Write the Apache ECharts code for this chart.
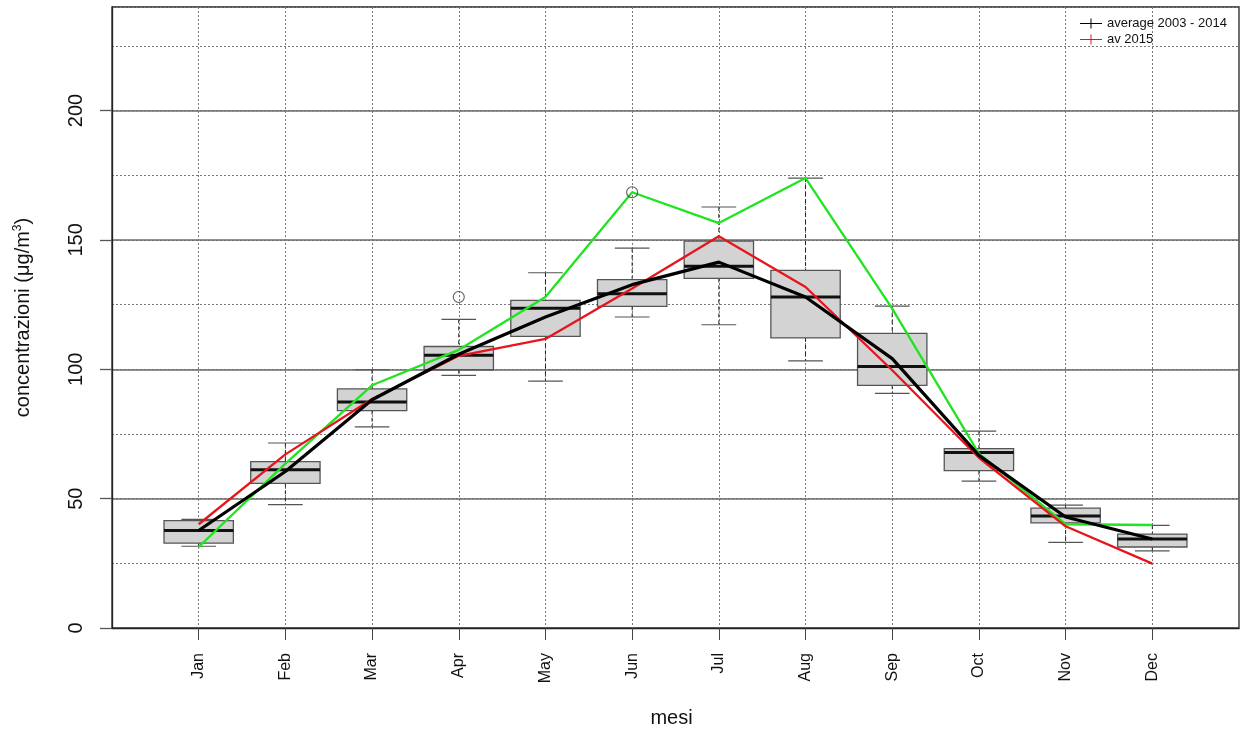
<!DOCTYPE html>
<html>
<head>
<meta charset="utf-8">
<title>Concentrazioni mensili</title>
<script src="https://cdn.jsdelivr.net/npm/echarts@6/dist/echarts.min.js"></script>
<style>
  html, body { margin: 0; padding: 0; background: #fff; }
  #chart { width: 1243px; height: 731px; }
</style>
</head>
<body>
<div id="chart"></div>
<script>
// Months on the x axis
const months = ['Jan', 'Feb', 'Mar', 'Apr', 'May', 'Jun', 'Jul', 'Aug', 'Sep', 'Oct', 'Nov', 'Dec'];

// Monthly distribution 2003 - 2014 (whisker low, Q1, median, Q3, whisker high)
const whiskerLow  = [31.6, 47.7, 77.7,  97.6,  95.4, 120.2, 117.2, 103.2,  90.7, 56.8, 33.1, 29.8];
const quartile1   = [32.8, 55.9, 84.0,  99.8, 112.7, 124.3, 135.1, 112.1,  93.8, 60.8, 40.6, 31.3];
const medians     = [37.7, 61.2, 87.3, 105.4, 123.6, 129.2, 139.8, 127.9, 101.1, 67.8, 43.3, 34.4];
const quartile3   = [41.5, 64.3, 92.4, 108.8, 126.6, 134.6, 149.5, 138.2, 113.9, 69.3, 46.3, 36.3];
const whiskerHigh = [42.0, 71.5, 99.8, 119.3, 137.3, 146.8, 162.7, 173.9, 124.4, 76.1, 47.5, 39.7];

// Outliers: [month number, value]
const outliers = [[4, 127.9], [6, 168.4]];

// Monthly mean lines
const average0314 = [37.7, 60.5, 88.2, 105.8, 120.2, 132.7, 141.4, 127.9, 104.1, 66.7, 42.9, 34.4];
const av2015      = [40.1, 67.1, 88.5, 105.2, 111.7, 131.2, 151.4, 131.8,  99.6, 65.8, 39.3, 24.9];
const greenLine   = [31.3, 63.5, 93.8, 107.5, 127.9, 168.4, 156.5, 173.9, 123.4, 67.4, 40.1, 39.8];

// Y axis tick labels
const yTicks = [0, 50, 100, 150, 200];

const FONT = '"Liberation Sans", Arial, Helvetica, sans-serif';
const monthNums = months.map((m, i) => i + 1);
const toPoints = arr => arr.map((v, i) => [i + 1, v]);

const boxData = months.map((m, i) => [i + 1, whiskerLow[i], quartile1[i], medians[i], quartile3[i], whiskerHigh[i]]);

function renderBox(params, api) {
  const x = api.value(0);
  const lo = api.value(1), q1 = api.value(2), med = api.value(3), q3 = api.value(4), hi = api.value(5);
  const halfBox = 0.4, halfCap = 0.2;
  const tl = api.coord([x - halfBox, q3]);
  const br = api.coord([x + halfBox, q1]);
  const m = api.coord([x, med]);
  const top = api.coord([x, hi]);
  const bot = api.coord([x, lo]);
  const capL = api.coord([x - halfCap, hi])[0];
  const capR = api.coord([x + halfCap, hi])[0];
  const edge = '#555555';
  const dash = { stroke: '#222222', lineWidth: 1, lineDash: [4, 3] };
  return {
    type: 'group',
    children: [
      { type: 'line', shape: { x1: top[0], y1: top[1], x2: top[0], y2: tl[1] }, style: dash },
      { type: 'line', shape: { x1: bot[0], y1: br[1], x2: bot[0], y2: bot[1] }, style: dash },
      { type: 'line', shape: { x1: capL, y1: top[1], x2: capR, y2: top[1] }, style: { stroke: edge, lineWidth: 1.2 } },
      { type: 'line', shape: { x1: capL, y1: bot[1], x2: capR, y2: bot[1] }, style: { stroke: edge, lineWidth: 1.2 } },
      { type: 'rect', shape: { x: tl[0], y: tl[1], width: br[0] - tl[0], height: br[1] - tl[1] },
        style: { fill: '#d3d3d3', stroke: edge, lineWidth: 1.3 } },
      { type: 'line', shape: { x1: tl[0], y1: m[1], x2: br[0], y2: m[1] }, style: { stroke: '#111111', lineWidth: 3 } }
    ]
  };
}

const legendIcon = 'path://M0,4.5H22V5.5H0Z M10.5,0H11.5V10H10.5Z';

const option = {
  animation: false,
  backgroundColor: '#ffffff',
  textStyle: { fontFamily: FONT },
  grid: {
    left: 112, right: 4, top: 7, bottom: 103,
    outerBoundsMode: 'none',
    containLabel: false,
    show: true, borderColor: '#222222', borderWidth: 1.3, backgroundColor: 'transparent'
  },
  legend: {
    orient: 'vertical',
    left: 1075, top: 12,
    itemWidth: 22, itemHeight: 10, itemGap: 3, itemTextGap: 12,
    textStyle: { fontFamily: FONT, fontSize: 13, color: '#111111' },
    data: [
      { name: 'average 2003 - 2014', icon: legendIcon },
      { name: 'av 2015', icon: legendIcon }
    ]
  },
  xAxis: {
    type: 'value',
    min: 0, max: 13, interval: 1,
    name: 'mesi',
    nameLocation: 'middle',
    nameGap: 80,
    nameTextStyle: { fontFamily: FONT, fontSize: 20, color: '#111111', padding: [0, 8, 0, 0] },
    axisLine: { show: true, lineStyle: { color: '#222222', width: 1.3 } },
    axisTick: { show: true, customValues: monthNums, length: 12, lineStyle: { color: '#444444' } },
    axisLabel: {
      customValues: monthNums,
      rotate: 90, margin: 25,
      fontFamily: FONT, fontSize: 16, color: '#111111',
      formatter: v => months[Math.round(v) - 1] || ''
    },
    splitLine: { show: true, lineStyle: { color: '#777777', type: [2, 2], width: 1 } }
  },
  yAxis: [
    {
      // dotted grid every 25
      type: 'value', min: 0, max: 240, interval: 25,
      position: 'left',
      axisLine: { show: false }, axisTick: { show: false }, axisLabel: { show: false },
      splitLine: { show: true, lineStyle: { color: '#777777', type: [2, 2], width: 1 } }
    },
    {
      // labelled axis with solid grid every 50
      type: 'value', min: 0, max: 240, interval: 50,
      position: 'left',
      offset: 0,
      name: '{t|concentrazioni (μg/m}{s|3}{t|)}',
      nameLocation: 'middle',
      nameRotate: 90,
      nameGap: 78,
      nameTextStyle: {
        rich: {
          t: { fontFamily: FONT, fontSize: 20, color: '#111111' },
          s: { fontFamily: FONT, fontSize: 12, color: '#111111', verticalAlign: 'top', padding: [0, 0, 10, 0] }
        }
      },
      axisLine: { show: true, lineStyle: { color: '#222222', width: 1.3 } },
      axisTick: { show: true, customValues: yTicks, length: 12, lineStyle: { color: '#555555', width: 1.3 } },
      axisLabel: {
        customValues: yTicks,
        rotate: 90, margin: 26,
        fontFamily: FONT, fontSize: 20, color: '#111111'
      },
      splitLine: { show: true, lineStyle: { color: '#6a6a6a', type: 'solid', width: 1.5 } }
    }
  ],
  series: [
    {
      name: 'distribuzione 2003 - 2014',
      type: 'custom',
      renderItem: renderBox,
      data: boxData,
      encode: { x: 0, y: [1, 2, 3, 4, 5] },
      z: 2
    },
    {
      name: 'outlier',
      type: 'scatter',
      data: outliers,
      symbol: 'circle',
      symbolSize: 11,
      itemStyle: { color: 'transparent', borderColor: '#333333', borderWidth: 1.1 },
      z: 6
    },
    {
      name: 'serie 3',
      type: 'line',
      data: toPoints(greenLine),
      symbol: 'none',
      color: '#1fe41f',
      lineStyle: { color: '#1fe41f', width: 2.3 },
      z: 3
    },
    {
      name: 'av 2015',
      type: 'line',
      data: toPoints(av2015),
      symbol: 'none',
      color: '#e8141c',
      lineStyle: { color: '#e8141c', width: 2.3 },
      z: 4
    },
    {
      name: 'average 2003 - 2014',
      type: 'line',
      data: toPoints(average0314),
      symbol: 'none',
      color: '#000000',
      lineStyle: { color: '#000000', width: 3.2 },
      z: 5
    }
  ]
};

const chart = echarts.init(document.getElementById('chart'), null, { renderer: 'canvas' });
chart.setOption(option);
</script>
</body>
</html>
